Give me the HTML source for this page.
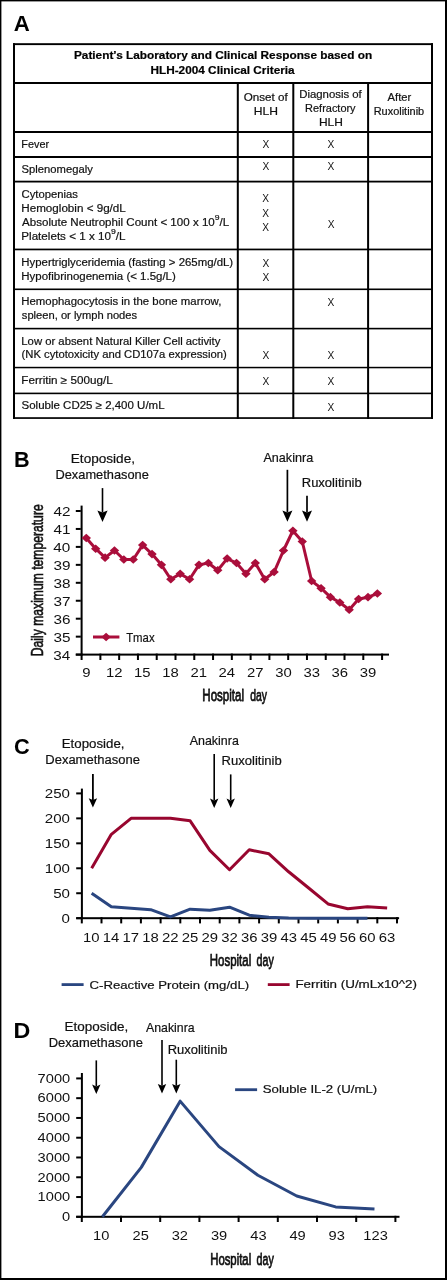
<!DOCTYPE html>
<html><head><meta charset="utf-8"><style>
html,body{margin:0;padding:0;background:#fff;overflow:hidden;}
svg{display:block;font-family:"Liberation Sans", sans-serif;}
</style></head><body>
<svg width="447" height="1280" viewBox="0 0 447 1280">
<rect width="447" height="1280" fill="#fff"/>
<rect x="0.00" y="0.00" width="1.40" height="1280.00" fill="#000"/>
<rect x="0.00" y="0.00" width="447.00" height="1.40" fill="#000"/>
<rect x="445.00" y="0.00" width="2.00" height="1280.00" fill="#000"/>
<rect x="0.00" y="1278.00" width="447.00" height="2.00" fill="#000"/>
<rect x="13.00" y="43.20" width="420.00" height="1.90" fill="#000"/>
<rect x="13.00" y="82.00" width="420.00" height="2.00" fill="#000"/>
<rect x="13.00" y="131.00" width="420.00" height="2.00" fill="#000"/>
<rect x="13.00" y="156.00" width="420.00" height="2.00" fill="#000"/>
<rect x="13.00" y="180.70" width="420.00" height="1.80" fill="#000"/>
<rect x="13.00" y="248.60" width="420.00" height="1.70" fill="#000"/>
<rect x="13.00" y="288.50" width="420.00" height="1.60" fill="#000"/>
<rect x="13.00" y="327.80" width="420.00" height="1.60" fill="#000"/>
<rect x="13.00" y="366.80" width="420.00" height="1.50" fill="#000"/>
<rect x="13.00" y="392.60" width="420.00" height="1.60" fill="#000"/>
<rect x="13.00" y="417.20" width="420.00" height="1.70" fill="#000"/>
<rect x="13.00" y="43.20" width="2.00" height="375.70" fill="#000"/>
<rect x="431.00" y="43.20" width="2.00" height="375.70" fill="#000"/>
<rect x="236.80" y="82.00" width="2.00" height="336.90" fill="#000"/>
<rect x="292.30" y="82.00" width="2.00" height="336.90" fill="#000"/>
<rect x="367.10" y="82.00" width="2.00" height="336.90" fill="#000"/>
<line x1="102.50" y1="488.10" x2="102.50" y2="512.50" stroke="#000" stroke-width="1.6"/>
<path d="M97.40,510.50 L102.50,512.50 L107.60,510.50 L102.50,521.90 Z" fill="#000"/>
<line x1="287.40" y1="469.80" x2="287.40" y2="512.40" stroke="#000" stroke-width="1.7"/>
<path d="M282.40,510.40 L287.40,512.40 L292.40,510.40 L287.40,521.80 Z" fill="#000"/>
<line x1="307.00" y1="495.80" x2="307.00" y2="512.40" stroke="#000" stroke-width="1.7"/>
<path d="M302.00,510.40 L307.00,512.40 L312.00,510.40 L307.00,521.80 Z" fill="#000"/>
<rect x="80.60" y="505.60" width="2.00" height="150.00" fill="#000"/>
<rect x="75.80" y="653.60" width="313.20" height="2.00" fill="#000"/>
<rect x="75.80" y="653.60" width="5.00" height="2.00" fill="#000"/>
<rect x="75.80" y="635.65" width="5.00" height="2.00" fill="#000"/>
<rect x="75.80" y="617.70" width="5.00" height="2.00" fill="#000"/>
<rect x="75.80" y="599.75" width="5.00" height="2.00" fill="#000"/>
<rect x="75.80" y="581.80" width="5.00" height="2.00" fill="#000"/>
<rect x="75.80" y="563.85" width="5.00" height="2.00" fill="#000"/>
<rect x="75.80" y="545.90" width="5.00" height="2.00" fill="#000"/>
<rect x="75.80" y="527.95" width="5.00" height="2.00" fill="#000"/>
<rect x="75.80" y="510.00" width="5.00" height="2.00" fill="#000"/>
<rect x="80.60" y="653.60" width="2.00" height="6.40" fill="#000"/>
<rect x="99.38" y="653.60" width="2.00" height="6.40" fill="#000"/>
<rect x="118.16" y="653.60" width="2.00" height="6.40" fill="#000"/>
<rect x="136.94" y="653.60" width="2.00" height="6.40" fill="#000"/>
<rect x="155.72" y="653.60" width="2.00" height="6.40" fill="#000"/>
<rect x="174.50" y="653.60" width="2.00" height="6.40" fill="#000"/>
<rect x="193.28" y="653.60" width="2.00" height="6.40" fill="#000"/>
<rect x="212.06" y="653.60" width="2.00" height="6.40" fill="#000"/>
<rect x="230.84" y="653.60" width="2.00" height="6.40" fill="#000"/>
<rect x="249.62" y="653.60" width="2.00" height="6.40" fill="#000"/>
<rect x="268.40" y="653.60" width="2.00" height="6.40" fill="#000"/>
<rect x="287.18" y="653.60" width="2.00" height="6.40" fill="#000"/>
<rect x="305.96" y="653.60" width="2.00" height="6.40" fill="#000"/>
<rect x="324.74" y="653.60" width="2.00" height="6.40" fill="#000"/>
<rect x="343.52" y="653.60" width="2.00" height="6.40" fill="#000"/>
<rect x="362.30" y="653.60" width="2.00" height="6.40" fill="#000"/>
<rect x="381.08" y="653.60" width="2.00" height="6.40" fill="#000"/>
<polyline points="86.29,537.93 95.69,548.70 105.07,557.67 114.47,550.49 123.85,559.47 133.25,559.47 142.63,545.11 152.03,554.08 161.41,564.85 170.81,579.21 180.19,573.83 189.59,579.21 198.97,564.85 208.37,563.06 217.75,570.24 227.15,558.57 236.53,563.06 245.93,573.83 255.31,563.06 264.71,579.21 274.10,572.03 283.49,550.49 292.88,530.75 302.26,541.52 311.65,581.00 321.05,588.18 330.44,597.16 339.83,602.55 349.22,609.73 358.61,598.96 368.00,597.16 377.38,593.57" fill="none" stroke="#aa0e3b" stroke-width="3" stroke-linejoin="round" stroke-linecap="butt"/>
<path d="M86.29,533.63 L90.99,537.93 L86.29,542.23 L81.59,537.93 Z" fill="#aa0e3b"/>
<path d="M95.69,544.40 L100.39,548.70 L95.69,553.00 L90.98,548.70 Z" fill="#aa0e3b"/>
<path d="M105.07,553.37 L109.77,557.67 L105.07,561.97 L100.37,557.67 Z" fill="#aa0e3b"/>
<path d="M114.47,546.19 L119.17,550.49 L114.47,554.79 L109.77,550.49 Z" fill="#aa0e3b"/>
<path d="M123.85,555.17 L128.55,559.47 L123.85,563.76 L119.15,559.47 Z" fill="#aa0e3b"/>
<path d="M133.25,555.17 L137.94,559.47 L133.25,563.76 L128.55,559.47 Z" fill="#aa0e3b"/>
<path d="M142.63,540.81 L147.33,545.11 L142.63,549.40 L137.94,545.11 Z" fill="#aa0e3b"/>
<path d="M152.03,549.78 L156.72,554.08 L152.03,558.38 L147.33,554.08 Z" fill="#aa0e3b"/>
<path d="M161.41,560.55 L166.11,564.85 L161.41,569.15 L156.72,564.85 Z" fill="#aa0e3b"/>
<path d="M170.81,574.91 L175.50,579.21 L170.81,583.51 L166.11,579.21 Z" fill="#aa0e3b"/>
<path d="M180.19,569.53 L184.89,573.83 L180.19,578.12 L175.50,573.83 Z" fill="#aa0e3b"/>
<path d="M189.59,574.91 L194.28,579.21 L189.59,583.51 L184.89,579.21 Z" fill="#aa0e3b"/>
<path d="M198.97,560.55 L203.67,564.85 L198.97,569.15 L194.28,564.85 Z" fill="#aa0e3b"/>
<path d="M208.37,558.76 L213.06,563.06 L208.37,567.36 L203.67,563.06 Z" fill="#aa0e3b"/>
<path d="M217.75,565.94 L222.45,570.24 L217.75,574.53 L213.06,570.24 Z" fill="#aa0e3b"/>
<path d="M227.15,554.27 L231.84,558.57 L227.15,562.87 L222.45,558.57 Z" fill="#aa0e3b"/>
<path d="M236.53,558.76 L241.23,563.06 L236.53,567.36 L231.84,563.06 Z" fill="#aa0e3b"/>
<path d="M245.93,569.53 L250.62,573.83 L245.93,578.12 L241.23,573.83 Z" fill="#aa0e3b"/>
<path d="M255.31,558.76 L260.01,563.06 L255.31,567.36 L250.62,563.06 Z" fill="#aa0e3b"/>
<path d="M264.71,574.91 L269.41,579.21 L264.71,583.51 L260.01,579.21 Z" fill="#aa0e3b"/>
<path d="M274.10,567.73 L278.80,572.03 L274.10,576.33 L269.40,572.03 Z" fill="#aa0e3b"/>
<path d="M283.49,546.19 L288.19,550.49 L283.49,554.79 L278.79,550.49 Z" fill="#aa0e3b"/>
<path d="M292.88,526.45 L297.57,530.75 L292.88,535.04 L288.18,530.75 Z" fill="#aa0e3b"/>
<path d="M302.26,537.22 L306.96,541.52 L302.26,545.82 L297.56,541.52 Z" fill="#aa0e3b"/>
<path d="M311.65,576.71 L316.35,581.00 L311.65,585.30 L306.95,581.00 Z" fill="#aa0e3b"/>
<path d="M321.05,583.88 L325.75,588.18 L321.05,592.48 L316.35,588.18 Z" fill="#aa0e3b"/>
<path d="M330.44,592.86 L335.13,597.16 L330.44,601.46 L325.74,597.16 Z" fill="#aa0e3b"/>
<path d="M339.83,598.25 L344.53,602.55 L339.83,606.85 L335.13,602.55 Z" fill="#aa0e3b"/>
<path d="M349.22,605.43 L353.92,609.73 L349.22,614.02 L344.52,609.73 Z" fill="#aa0e3b"/>
<path d="M358.61,594.66 L363.31,598.96 L358.61,603.25 L353.91,598.96 Z" fill="#aa0e3b"/>
<path d="M368.00,592.86 L372.69,597.16 L368.00,601.46 L363.30,597.16 Z" fill="#aa0e3b"/>
<path d="M377.38,589.27 L382.08,593.57 L377.38,597.87 L372.69,593.57 Z" fill="#aa0e3b"/>
<rect x="93.00" y="635.50" width="26.40" height="3.00" fill="#aa0e3b"/>
<path d="M106.10,632.70 L110.80,637.00 L106.10,641.30 L101.40,637.00 Z" fill="#aa0e3b"/>
<line x1="92.90" y1="773.90" x2="92.90" y2="800.00" stroke="#000" stroke-width="1.8"/>
<path d="M88.70,798.20 L92.90,800.00 L97.10,798.20 L92.90,807.60 Z" fill="#000"/>
<line x1="214.20" y1="754.10" x2="214.20" y2="800.40" stroke="#000" stroke-width="1.6"/>
<path d="M210.00,798.60 L214.20,800.40 L218.40,798.60 L214.20,808.00 Z" fill="#000"/>
<line x1="230.70" y1="774.40" x2="230.70" y2="800.40" stroke="#000" stroke-width="1.6"/>
<path d="M226.50,798.60 L230.70,800.40 L234.90,798.60 L230.70,808.00 Z" fill="#000"/>
<rect x="80.90" y="788.60" width="2.00" height="130.60" fill="#000"/>
<rect x="76.20" y="917.20" width="322.90" height="2.00" fill="#000"/>
<rect x="76.20" y="917.20" width="5.00" height="2.00" fill="#000"/>
<rect x="76.20" y="892.24" width="5.00" height="2.00" fill="#000"/>
<rect x="76.20" y="867.28" width="5.00" height="2.00" fill="#000"/>
<rect x="76.20" y="842.32" width="5.00" height="2.00" fill="#000"/>
<rect x="76.20" y="817.36" width="5.00" height="2.00" fill="#000"/>
<rect x="76.20" y="792.40" width="5.00" height="2.00" fill="#000"/>
<rect x="80.80" y="917.20" width="2.00" height="6.20" fill="#000"/>
<rect x="100.50" y="917.20" width="2.00" height="6.20" fill="#000"/>
<rect x="120.20" y="917.20" width="2.00" height="6.20" fill="#000"/>
<rect x="139.90" y="917.20" width="2.00" height="6.20" fill="#000"/>
<rect x="159.60" y="917.20" width="2.00" height="6.20" fill="#000"/>
<rect x="179.30" y="917.20" width="2.00" height="6.20" fill="#000"/>
<rect x="199.00" y="917.20" width="2.00" height="6.20" fill="#000"/>
<rect x="218.70" y="917.20" width="2.00" height="6.20" fill="#000"/>
<rect x="238.40" y="917.20" width="2.00" height="6.20" fill="#000"/>
<rect x="258.10" y="917.20" width="2.00" height="6.20" fill="#000"/>
<rect x="277.80" y="917.20" width="2.00" height="6.20" fill="#000"/>
<rect x="297.50" y="917.20" width="2.00" height="6.20" fill="#000"/>
<rect x="317.20" y="917.20" width="2.00" height="6.20" fill="#000"/>
<rect x="336.90" y="917.20" width="2.00" height="6.20" fill="#000"/>
<rect x="356.60" y="917.20" width="2.00" height="6.20" fill="#000"/>
<rect x="376.30" y="917.20" width="2.00" height="6.20" fill="#000"/>
<rect x="396.00" y="917.20" width="2.00" height="6.20" fill="#000"/>
<polyline points="91.65,893.24 111.35,906.72 131.05,908.22 150.75,909.71 170.45,916.95 190.15,909.21 209.85,910.21 229.55,907.22 249.25,915.20 268.95,917.20 288.65,917.95 308.35,918.20 328.05,918.20 347.75,918.20 367.45,918.20" fill="none" stroke="#2a4680" stroke-width="3" stroke-linejoin="round" stroke-linecap="butt"/>
<polyline points="91.65,868.28 111.35,834.33 131.05,818.36 150.75,818.36 170.45,818.36 190.15,820.86 209.85,850.31 229.55,869.78 249.25,849.81 268.95,853.80 288.65,871.77 308.35,887.75 328.05,903.92 347.75,908.72 367.45,906.72 387.15,907.92" fill="none" stroke="#98062f" stroke-width="3" stroke-linejoin="round" stroke-linecap="butt"/>
<rect x="61.60" y="983.20" width="22.00" height="2.80" fill="#2a4680"/>
<rect x="267.80" y="983.20" width="21.80" height="2.80" fill="#98062f"/>
<line x1="96.30" y1="1060.40" x2="96.30" y2="1086.40" stroke="#000" stroke-width="1.6"/>
<path d="M92.10,1084.60 L96.30,1086.40 L100.50,1084.60 L96.30,1094.00 Z" fill="#000"/>
<line x1="162.00" y1="1040.00" x2="162.00" y2="1085.80" stroke="#000" stroke-width="1.6"/>
<path d="M157.80,1084.00 L162.00,1085.80 L166.20,1084.00 L162.00,1093.40 Z" fill="#000"/>
<line x1="176.30" y1="1059.70" x2="176.30" y2="1085.80" stroke="#000" stroke-width="1.6"/>
<path d="M172.10,1084.00 L176.30,1085.80 L180.50,1084.00 L176.30,1093.40 Z" fill="#000"/>
<rect x="80.90" y="1073.00" width="2.00" height="145.00" fill="#000"/>
<rect x="76.20" y="1215.80" width="323.30" height="2.00" fill="#000"/>
<rect x="76.20" y="1215.80" width="5.00" height="2.00" fill="#000"/>
<rect x="76.20" y="1196.03" width="5.00" height="2.00" fill="#000"/>
<rect x="76.20" y="1176.26" width="5.00" height="2.00" fill="#000"/>
<rect x="76.20" y="1156.49" width="5.00" height="2.00" fill="#000"/>
<rect x="76.20" y="1136.72" width="5.00" height="2.00" fill="#000"/>
<rect x="76.20" y="1116.95" width="5.00" height="2.00" fill="#000"/>
<rect x="76.20" y="1097.18" width="5.00" height="2.00" fill="#000"/>
<rect x="76.20" y="1077.41" width="5.00" height="2.00" fill="#000"/>
<rect x="80.80" y="1215.80" width="2.00" height="6.20" fill="#000"/>
<rect x="120.00" y="1215.80" width="2.00" height="6.20" fill="#000"/>
<rect x="159.20" y="1215.80" width="2.00" height="6.20" fill="#000"/>
<rect x="198.40" y="1215.80" width="2.00" height="6.20" fill="#000"/>
<rect x="237.60" y="1215.80" width="2.00" height="6.20" fill="#000"/>
<rect x="276.80" y="1215.80" width="2.00" height="6.20" fill="#000"/>
<rect x="316.00" y="1215.80" width="2.00" height="6.20" fill="#000"/>
<rect x="355.20" y="1215.80" width="2.00" height="6.20" fill="#000"/>
<rect x="394.40" y="1215.80" width="2.00" height="6.20" fill="#000"/>
<polyline points="102.40,1216.80 141.27,1167.38 180.14,1101.15 219.01,1146.62 257.88,1175.28 296.75,1196.04 335.62,1206.91 374.49,1208.89" fill="none" stroke="#2a4680" stroke-width="3" stroke-linejoin="round" stroke-linecap="butt"/>
<rect x="235.10" y="1088.30" width="22.00" height="2.80" fill="#2a4680"/>
<g opacity="0.999">
<text transform="translate(13.69,30.50) scale(1.0102,1)" font-size="22" font-weight="bold" fill="#000">A</text>
<text transform="translate(73.95,59.40) scale(1.0943,1)" font-size="10.8" font-weight="bold" fill="#000" stroke="#000" stroke-width="0.2">Patient’s Laboratory and Clinical Response based on</text>
<text transform="translate(150.45,73.80) scale(1.0937,1)" font-size="10.8" font-weight="bold" fill="#000" stroke="#000" stroke-width="0.2">HLH-2004 Clinical Criteria</text>
<text transform="translate(243.64,101.00) scale(1.1108,1)" font-size="10.5" fill="#111" stroke="#111" stroke-width="0.2">Onset of</text>
<text transform="translate(253.73,115.10) scale(1.1538,1)" font-size="10.5" fill="#111" stroke="#111" stroke-width="0.2">HLH</text>
<text transform="translate(299.19,98.10) scale(1.0847,1)" font-size="10.5" fill="#111" stroke="#111" stroke-width="0.2">Diagnosis of</text>
<text transform="translate(305.12,112.20) scale(1.0429,1)" font-size="10.5" fill="#111" stroke="#111" stroke-width="0.2">Refractory</text>
<text transform="translate(318.95,126.10) scale(1.1385,1)" font-size="10.5" fill="#111" stroke="#111" stroke-width="0.2">HLH</text>
<text transform="translate(387.60,100.70) scale(1.0652,1)" font-size="10.5" fill="#111" stroke="#111" stroke-width="0.2">After</text>
<text transform="translate(373.72,115.20) scale(1.0421,1)" font-size="10.5" fill="#111" stroke="#111" stroke-width="0.2">Ruxolitinib</text>
<text transform="translate(21.35,147.80) scale(1.0056,1)" font-size="10.8" fill="#111" stroke="#111" stroke-width="0.2">Fever</text>
<text transform="translate(21.58,173.00) scale(1.0412,1)" font-size="10.8" fill="#111" stroke="#111" stroke-width="0.2">Splenomegaly</text>
<text transform="translate(21.58,197.80) scale(1.0441,1)" font-size="10.8" fill="#111" stroke="#111" stroke-width="0.2">Cytopenias</text>
<text transform="translate(21.29,211.60) scale(1.0792,1)" font-size="10.8" fill="#111" stroke="#111" stroke-width="0.2">Hemoglobin &lt; 9g/dL</text>
<text transform="translate(22.10,225.60) scale(1.0725,1)" font-size="10.8" fill="#111" stroke="#111" stroke-width="0.2">Absolute Neutrophil Count &lt; 100 x 10<tspan font-size="8" dy="-6">9</tspan><tspan dy="6">/L</tspan></text>
<text transform="translate(21.29,239.60) scale(1.0796,1)" font-size="10.8" fill="#111" stroke="#111" stroke-width="0.2">Platelets &lt; 1 x 10<tspan font-size="8" dy="-6">9</tspan><tspan dy="6">/L</tspan></text>
<text transform="translate(21.31,265.90) scale(1.0561,1)" font-size="10.8" fill="#111" stroke="#111" stroke-width="0.2">Hypertriglyceridemia (fasting &gt; 265mg/dL)</text>
<text transform="translate(21.30,279.70) scale(1.0627,1)" font-size="10.8" fill="#111" stroke="#111" stroke-width="0.2">Hypofibrinogenemia (&lt; 1.5g/L)</text>
<text transform="translate(21.31,305.30) scale(1.0553,1)" font-size="10.8" fill="#111" stroke="#111" stroke-width="0.2">Hemophagocytosis in the bone marrow,</text>
<text transform="translate(21.84,318.50) scale(1.0333,1)" font-size="10.8" fill="#111" stroke="#111" stroke-width="0.2">spleen, or lymph nodes</text>
<text transform="translate(21.31,344.50) scale(1.0470,1)" font-size="10.8" fill="#111" stroke="#111" stroke-width="0.2">Low or absent Natural Killer Cell activity</text>
<text transform="translate(21.58,357.90) scale(1.0437,1)" font-size="10.8" fill="#111" stroke="#111" stroke-width="0.2">(NK cytotoxicity and CD107a expression)</text>
<text transform="translate(21.29,383.60) scale(1.0814,1)" font-size="10.8" fill="#111" stroke="#111" stroke-width="0.2">Ferritin ≥ 500ug/L</text>
<text transform="translate(21.57,409.10) scale(1.0654,1)" font-size="10.8" fill="#111" stroke="#111" stroke-width="0.2">Soluble CD25 ≥ 2,400 U/mL</text>
<text transform="translate(262.61,147.50) scale(0.9700,1)" font-size="10.5" fill="#111">X</text>
<text transform="translate(327.61,147.50) scale(0.9700,1)" font-size="10.5" fill="#111">X</text>
<text transform="translate(262.61,169.60) scale(0.9700,1)" font-size="10.5" fill="#111">X</text>
<text transform="translate(327.61,169.60) scale(0.9700,1)" font-size="10.5" fill="#111">X</text>
<text transform="translate(262.21,202.30) scale(0.9700,1)" font-size="10.5" fill="#111">X</text>
<text transform="translate(262.21,216.80) scale(0.9700,1)" font-size="10.5" fill="#111">X</text>
<text transform="translate(262.21,231.40) scale(0.9700,1)" font-size="10.5" fill="#111">X</text>
<text transform="translate(327.81,228.30) scale(0.9700,1)" font-size="10.5" fill="#111">X</text>
<text transform="translate(262.61,266.80) scale(0.9700,1)" font-size="10.5" fill="#111">X</text>
<text transform="translate(262.61,280.60) scale(0.9700,1)" font-size="10.5" fill="#111">X</text>
<text transform="translate(327.61,306.00) scale(0.9700,1)" font-size="10.5" fill="#111">X</text>
<text transform="translate(262.61,359.10) scale(0.9700,1)" font-size="10.5" fill="#111">X</text>
<text transform="translate(327.61,359.10) scale(0.9700,1)" font-size="10.5" fill="#111">X</text>
<text transform="translate(262.61,384.80) scale(0.9700,1)" font-size="10.5" fill="#111">X</text>
<text transform="translate(327.61,384.80) scale(0.9700,1)" font-size="10.5" fill="#111">X</text>
<text transform="translate(327.61,410.50) scale(0.9700,1)" font-size="10.5" fill="#111">X</text>
<text transform="translate(14.02,466.80) scale(0.9852,1)" font-size="22" font-weight="bold" fill="#000">B</text>
<text transform="translate(70.81,462.50) scale(1.0877,1)" font-size="12.5" fill="#111" stroke="#111" stroke-width="0.2">Etoposide,</text>
<text transform="translate(55.47,478.60) scale(1.0268,1)" font-size="12.5" fill="#111" stroke="#111" stroke-width="0.2">Dexamethasone</text>
<text transform="translate(263.40,462.20) scale(1.0101,1)" font-size="12.5" fill="#111" stroke="#111" stroke-width="0.2">Anakinra</text>
<text transform="translate(301.76,487.30) scale(1.0400,1)" font-size="12.5" fill="#111" stroke="#111" stroke-width="0.2">Ruxolitinib</text>
<text transform="translate(53.17,659.60) scale(1.1600,1)" font-size="13.2" fill="#111">34</text>
<text transform="translate(53.46,641.65) scale(1.1600,1)" font-size="13.2" fill="#111">35</text>
<text transform="translate(53.46,623.70) scale(1.1600,1)" font-size="13.2" fill="#111">36</text>
<text transform="translate(53.46,605.75) scale(1.1600,1)" font-size="13.2" fill="#111">37</text>
<text transform="translate(53.46,587.80) scale(1.1600,1)" font-size="13.2" fill="#111">38</text>
<text transform="translate(53.46,569.85) scale(1.1600,1)" font-size="13.2" fill="#111">39</text>
<text transform="translate(53.17,551.90) scale(1.1600,1)" font-size="13.2" fill="#111">40</text>
<text transform="translate(53.46,533.95) scale(1.1600,1)" font-size="13.2" fill="#111">41</text>
<text transform="translate(53.46,516.00) scale(1.1600,1)" font-size="13.2" fill="#111">42</text>
<text transform="translate(82.16,677.30) scale(1.1800,1)" font-size="12.6" fill="#111">9</text>
<text transform="translate(106.06,677.30) scale(1.1800,1)" font-size="12.6" fill="#111">12</text>
<text transform="translate(134.08,677.30) scale(1.1800,1)" font-size="12.6" fill="#111">15</text>
<text transform="translate(162.25,677.30) scale(1.1800,1)" font-size="12.6" fill="#111">18</text>
<text transform="translate(190.57,677.30) scale(1.1800,1)" font-size="12.6" fill="#111">21</text>
<text transform="translate(218.59,677.30) scale(1.1800,1)" font-size="12.6" fill="#111">24</text>
<text transform="translate(247.06,677.30) scale(1.1800,1)" font-size="12.6" fill="#111">27</text>
<text transform="translate(275.23,677.30) scale(1.1800,1)" font-size="12.6" fill="#111">30</text>
<text transform="translate(303.39,677.30) scale(1.1800,1)" font-size="12.6" fill="#111">33</text>
<text transform="translate(331.57,677.30) scale(1.1800,1)" font-size="12.6" fill="#111">36</text>
<text transform="translate(359.74,677.30) scale(1.1800,1)" font-size="12.6" fill="#111">39</text>
<text transform="translate(126.19,641.50) scale(0.8358,1)" font-size="13.6" fill="#111" stroke="#111" stroke-width="0.2">Tmax</text>
<text transform="translate(202.29,701.10) scale(0.7105,1)" font-size="16.3" fill="#111" stroke="#111" stroke-width="0.75">Hospital</text>
<text transform="translate(250.24,701.10) scale(0.6377,1)" font-size="16.3" fill="#111" stroke="#111" stroke-width="0.75">day</text>
<text transform="translate(14.11,753.80) scale(0.9895,1)" font-size="22" font-weight="bold" fill="#000">C</text>
<text transform="translate(61.74,747.60) scale(1.0632,1)" font-size="12.5" fill="#111" stroke="#111" stroke-width="0.2">Etoposide,</text>
<text transform="translate(45.26,764.20) scale(1.0402,1)" font-size="12.5" fill="#111" stroke="#111" stroke-width="0.2">Dexamethasone</text>
<text transform="translate(189.70,745.30) scale(0.9960,1)" font-size="12.5" fill="#111" stroke="#111" stroke-width="0.2">Anakinra</text>
<text transform="translate(221.56,765.20) scale(1.0436,1)" font-size="12.5" fill="#111" stroke="#111" stroke-width="0.2">Ruxolitinib</text>
<text transform="translate(61.60,922.60) scale(1.2000,1)" font-size="12.6" fill="#111">0</text>
<text transform="translate(53.20,897.64) scale(1.2000,1)" font-size="12.6" fill="#111">50</text>
<text transform="translate(44.80,872.68) scale(1.2000,1)" font-size="12.6" fill="#111">100</text>
<text transform="translate(44.80,847.72) scale(1.2000,1)" font-size="12.6" fill="#111">150</text>
<text transform="translate(44.80,822.76) scale(1.2000,1)" font-size="12.6" fill="#111">200</text>
<text transform="translate(44.80,797.80) scale(1.2000,1)" font-size="12.6" fill="#111">250</text>
<text transform="translate(83.10,941.60) scale(1.2000,1)" font-size="12.4" fill="#111">10</text>
<text transform="translate(102.65,941.60) scale(1.2000,1)" font-size="12.4" fill="#111">14</text>
<text transform="translate(122.50,941.60) scale(1.2000,1)" font-size="12.4" fill="#111">17</text>
<text transform="translate(142.20,941.60) scale(1.2000,1)" font-size="12.4" fill="#111">18</text>
<text transform="translate(162.05,941.60) scale(1.2000,1)" font-size="12.4" fill="#111">22</text>
<text transform="translate(181.75,941.60) scale(1.2000,1)" font-size="12.4" fill="#111">25</text>
<text transform="translate(201.45,941.60) scale(1.2000,1)" font-size="12.4" fill="#111">29</text>
<text transform="translate(221.30,941.60) scale(1.2000,1)" font-size="12.4" fill="#111">32</text>
<text transform="translate(241.00,941.60) scale(1.2000,1)" font-size="12.4" fill="#111">36</text>
<text transform="translate(260.70,941.60) scale(1.2000,1)" font-size="12.4" fill="#111">39</text>
<text transform="translate(280.55,941.60) scale(1.2000,1)" font-size="12.4" fill="#111">43</text>
<text transform="translate(300.25,941.60) scale(1.2000,1)" font-size="12.4" fill="#111">45</text>
<text transform="translate(319.95,941.60) scale(1.2000,1)" font-size="12.4" fill="#111">49</text>
<text transform="translate(339.50,941.60) scale(1.2000,1)" font-size="12.4" fill="#111">56</text>
<text transform="translate(359.05,941.60) scale(1.2000,1)" font-size="12.4" fill="#111">60</text>
<text transform="translate(378.75,941.60) scale(1.2000,1)" font-size="12.4" fill="#111">63</text>
<text transform="translate(209.80,966.10) scale(0.7035,1)" font-size="16.3" fill="#111" stroke="#111" stroke-width="0.75">Hospital</text>
<text transform="translate(256.54,966.10) scale(0.6566,1)" font-size="16.3" fill="#111" stroke="#111" stroke-width="0.75">day</text>
<text transform="translate(89.53,988.50) scale(1.1362,1)" font-size="11.6" fill="#111" stroke="#111" stroke-width="0.2">C-Reactive Protein (mg/dL)</text>
<text transform="translate(295.43,988.30) scale(1.1548,1)" font-size="11.6" fill="#111" stroke="#111" stroke-width="0.2">Ferritin (U/mLx10^2)</text>
<text transform="translate(13.51,1037.90) scale(1.0593,1)" font-size="22" font-weight="bold" fill="#000">D</text>
<text transform="translate(64.62,1031.40) scale(1.0789,1)" font-size="12.5" fill="#111" stroke="#111" stroke-width="0.2">Etoposide,</text>
<text transform="translate(48.66,1047.20) scale(1.0369,1)" font-size="12.5" fill="#111" stroke="#111" stroke-width="0.2">Dexamethasone</text>
<text transform="translate(146.00,1031.60) scale(0.9859,1)" font-size="12.5" fill="#111" stroke="#111" stroke-width="0.2">Anakinra</text>
<text transform="translate(167.66,1054.30) scale(1.0382,1)" font-size="12.5" fill="#111" stroke="#111" stroke-width="0.2">Ruxolitinib</text>
<text transform="translate(61.90,1221.10) scale(1.2000,1)" font-size="12.2" fill="#111">0</text>
<text transform="translate(37.60,1201.33) scale(1.2000,1)" font-size="12.2" fill="#111">1000</text>
<text transform="translate(37.60,1181.56) scale(1.2000,1)" font-size="12.2" fill="#111">2000</text>
<text transform="translate(37.60,1161.79) scale(1.2000,1)" font-size="12.2" fill="#111">3000</text>
<text transform="translate(37.60,1142.02) scale(1.2000,1)" font-size="12.2" fill="#111">4000</text>
<text transform="translate(37.60,1122.25) scale(1.2000,1)" font-size="12.2" fill="#111">5000</text>
<text transform="translate(37.60,1102.48) scale(1.2000,1)" font-size="12.2" fill="#111">6000</text>
<text transform="translate(37.60,1082.71) scale(1.2000,1)" font-size="12.2" fill="#111">7000</text>
<text transform="translate(93.00,1240.40) scale(1.2000,1)" font-size="12.2" fill="#111">10</text>
<text transform="translate(132.50,1240.40) scale(1.2000,1)" font-size="12.2" fill="#111">25</text>
<text transform="translate(171.70,1240.40) scale(1.2000,1)" font-size="12.2" fill="#111">32</text>
<text transform="translate(210.90,1240.40) scale(1.2000,1)" font-size="12.2" fill="#111">39</text>
<text transform="translate(250.25,1240.40) scale(1.2000,1)" font-size="12.2" fill="#111">43</text>
<text transform="translate(289.45,1240.40) scale(1.2000,1)" font-size="12.2" fill="#111">49</text>
<text transform="translate(328.50,1240.40) scale(1.2000,1)" font-size="12.2" fill="#111">93</text>
<text transform="translate(363.35,1240.40) scale(1.2000,1)" font-size="12.2" fill="#111">123</text>
<text transform="translate(210.20,1264.50) scale(0.6965,1)" font-size="16.3" fill="#111" stroke="#111" stroke-width="0.75">Hospital</text>
<text transform="translate(256.54,1264.50) scale(0.6566,1)" font-size="16.3" fill="#111" stroke="#111" stroke-width="0.75">day</text>
<text transform="translate(262.73,1093.30) scale(1.1387,1)" font-size="11.6" fill="#111" stroke="#111" stroke-width="0.2">Soluble IL-2 (U/mL)</text>
<text transform="translate(43.0,656.15) rotate(-90) scale(0.7460,1)" font-size="16.3" fill="#111" stroke="#111" stroke-width="0.6">Daily maximum temperature</text>
</g>
</svg>
</body></html>
